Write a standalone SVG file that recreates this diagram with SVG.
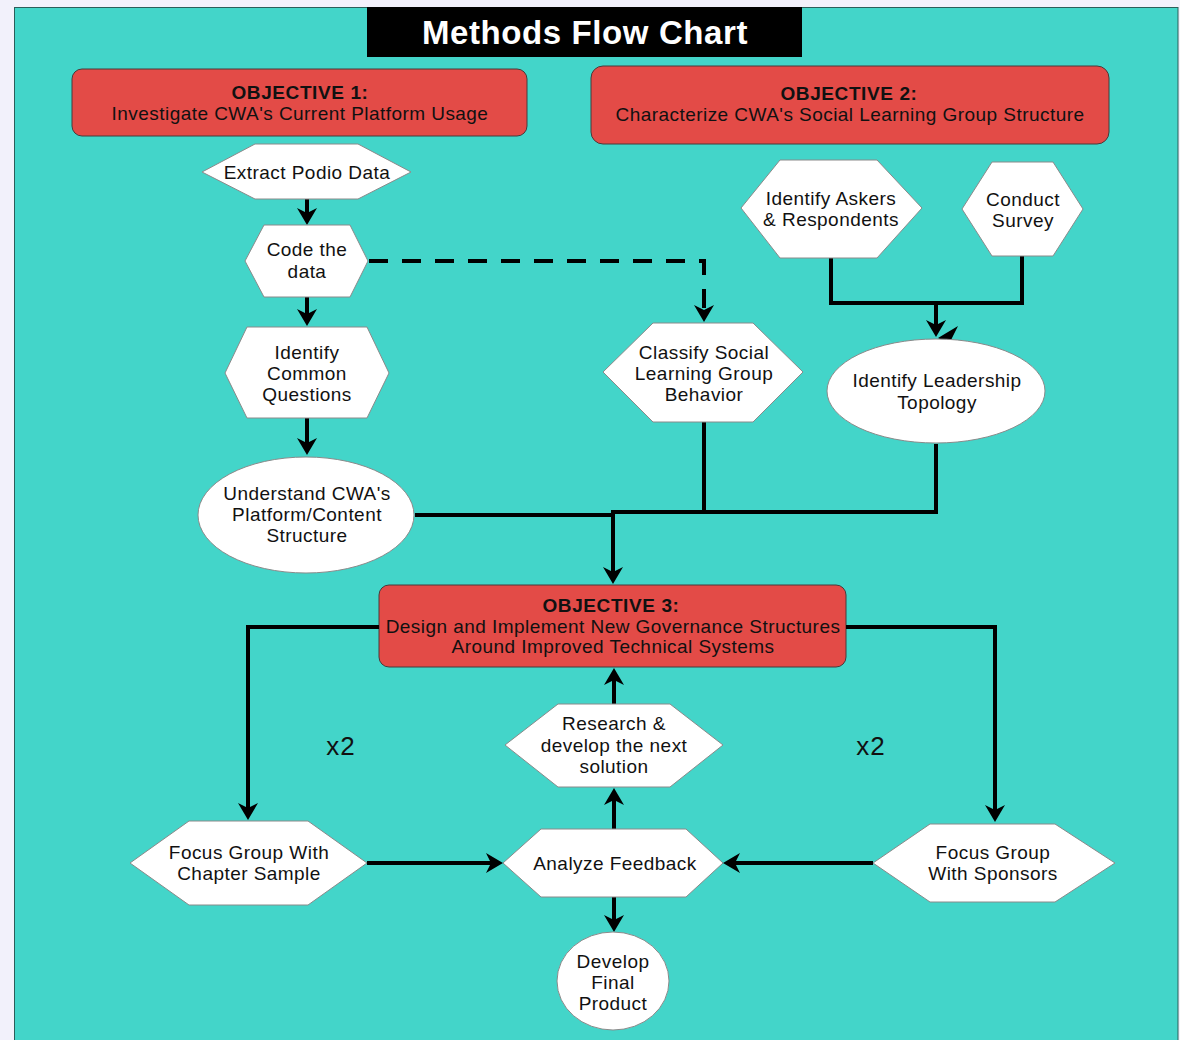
<svg xmlns="http://www.w3.org/2000/svg" width="1180" height="1040" viewBox="0 0 1180 1040">
  <style>
    text { font-family: "Liberation Sans", Arial, Helvetica, sans-serif; font-size: 19px; fill: #111; text-anchor: middle; letter-spacing: 0.45px; }
    .bold { font-weight: bold; letter-spacing: 0.6px; }
    .title { font-size: 33px; font-weight: bold; fill: #fff; letter-spacing: 0.6px; }
    .rep { font-size: 26px; letter-spacing: 1px; }
    .obj { fill: #e34b47; stroke: #4a3a3a; stroke-width: 1; }
    .shape { fill: #fff; stroke: #8a8a8a; stroke-width: 1; }
    .wire { fill: none; stroke: #000; stroke-width: 4; }
    .arrow { marker-end: url(#ah); }
    .dash { stroke-dasharray: 19 14; }
  </style>
  <defs>
    <marker id="ah" markerUnits="userSpaceOnUse" viewBox="-10 -11 20 22" refX="0" refY="0" markerWidth="20" markerHeight="22" orient="auto">
      <path d="M8,0 L-9,-10 L-4,0 L-9,10 Z" fill="#000"/>
    </marker>
  </defs>

  <!-- page and panel -->
  <rect x="0" y="0" width="1180" height="1040" fill="#f2f1fb"/>
  <rect x="14.5" y="7.5" width="1163.5" height="1040" fill="#43d5c9" stroke="#2b5e5a" stroke-width="1"/>

  <!-- title -->
  <g id="title">
    <rect x="367" y="7" width="435" height="50" fill="#000"/>
    <text class="title" x="585" y="44">Methods Flow Chart</text>
  </g>

  <!-- objectives -->
  <g id="objective1">
    <rect class="obj" x="72" y="69" width="455" height="67" rx="10"/>
    <text class="bold" x="300" y="98.5">OBJECTIVE 1:</text>
    <text x="300" y="119.5">Investigate CWA's Current Platform Usage</text>
  </g>
  <g id="objective2">
    <rect class="obj" x="591" y="66" width="518" height="78" rx="12"/>
    <text class="bold" x="849" y="100">OBJECTIVE 2:</text>
    <text x="850" y="121">Characterize CWA's Social Learning Group Structure</text>
  </g>
  <g id="objective3">
    <rect class="obj" x="379" y="585" width="467" height="82" rx="10"/>
    <text class="bold" x="611" y="612">OBJECTIVE 3:</text>
    <text x="613" y="633">Design and Implement New Governance Structures</text>
    <text x="613" y="653">Around Improved Technical Systems</text>
  </g>

  <!-- connectors -->
  <g id="connectors">
    <path class="wire arrow" d="M307,199 V217"/>
    <path class="wire arrow" d="M307,297 V318"/>
    <path class="wire arrow" d="M307,418 V447"/>
    <path class="wire dash arrow" d="M369,261 H704 V314"/>
    <path class="wire" d="M704,422 V512"/>
    <path class="wire" d="M415,515 H613"/>
    <path class="wire arrow" d="M936,444 V512 H613 V576"/>
    <path class="wire" d="M831,258 V303 H1022 V256"/>
    <path class="wire arrow" d="M936,303 V329"/>
    <path d="M938,338 L958,326 L951,340 L959,350 Z" fill="#000"/>
    <path class="wire arrow" d="M379,627 H248 V812"/>
    <path class="wire arrow" d="M846,627 H995 V814"/>
    <path class="wire arrow" d="M367,863 H495"/>
    <path class="wire arrow" d="M873,863 H731"/>
    <path class="wire arrow" d="M614,829 V796"/>
    <path class="wire arrow" d="M614,704 V676"/>
    <path class="wire arrow" d="M614,897 V924"/>
  </g>

  <!-- objective 1 branch -->
  <g id="extract-podio">
    <polygon class="shape" points="202,172 255,144 358,144 411,172 358,199 255,199"/>
    <text x="307" y="178.5">Extract Podio Data</text>
  </g>
  <g id="code-data">
    <polygon class="shape" points="245,261 264,225 350,225 368,261 350,297 264,297"/>
    <text x="307" y="256">Code the</text>
    <text x="307" y="277.5">data</text>
  </g>
  <g id="common-questions">
    <polygon class="shape" points="225,373 247,327 367,327 389,373 367,418 247,418"/>
    <text x="307" y="358.5">Identify</text>
    <text x="307" y="380">Common</text>
    <text x="307" y="401">Questions</text>
  </g>
  <g id="platform-structure">
    <ellipse class="shape" cx="306" cy="515" rx="108" ry="58"/>
    <text x="307" y="500">Understand CWA's</text>
    <text x="307" y="521">Platform/Content</text>
    <text x="307" y="542">Structure</text>
  </g>

  <!-- objective 2 branch -->
  <g id="classify-behavior">
    <polygon class="shape" points="603,372 653,323 753,323 803,372 753,422 653,422"/>
    <text x="704" y="358.5">Classify Social</text>
    <text x="704" y="380">Learning Group</text>
    <text x="704" y="401">Behavior</text>
  </g>
  <g id="askers-respondents">
    <polygon class="shape" points="741,208 780,160 877,160 922,208 877,258 780,258"/>
    <text x="831" y="205">Identify Askers</text>
    <text x="831" y="226">&amp; Respondents</text>
  </g>
  <g id="conduct-survey">
    <polygon class="shape" points="962,209 992,162 1053,162 1083,209 1053,256 992,256"/>
    <text x="1023" y="205.5">Conduct</text>
    <text x="1023" y="226.5">Survey</text>
  </g>
  <g id="leadership-topology">
    <ellipse class="shape" cx="936" cy="391" rx="109" ry="52"/>
    <text x="937" y="387">Identify Leadership</text>
    <text x="937" y="408.5">Topology</text>
  </g>

  <!-- objective 3 loop -->
  <g id="research-develop">
    <polygon class="shape" points="505,745 558,704 670,704 723,745 670,787 558,787"/>
    <text x="614" y="730">Research &amp;</text>
    <text x="614" y="751.5">develop the next</text>
    <text x="614" y="772.5">solution</text>
  </g>
  <g id="focus-chapter">
    <polygon class="shape" points="130,863 189,821 308,821 367,863 308,905 189,905"/>
    <text x="249" y="858.5">Focus Group With</text>
    <text x="249" y="879.5">Chapter Sample</text>
  </g>
  <g id="focus-sponsors">
    <polygon class="shape" points="873,863 930,824 1055,824 1115,863 1055,902 930,902"/>
    <text x="993" y="858.5">Focus Group</text>
    <text x="993" y="879.5">With Sponsors</text>
  </g>
  <g id="analyze-feedback">
    <polygon class="shape" points="503,863 541,829 686,829 723,863 686,897 541,897"/>
    <text x="615" y="869.5">Analyze Feedback</text>
  </g>
  <g id="final-product">
    <ellipse class="shape" cx="613" cy="981" rx="56" ry="49"/>
    <text x="613" y="967.5">Develop</text>
    <text x="613" y="988.5">Final</text>
    <text x="613" y="1009.5">Product</text>
  </g>

  <!-- repeat labels -->
  <text class="rep" x="341" y="755">x2</text>
  <text class="rep" x="871" y="755">x2</text>
</svg>
